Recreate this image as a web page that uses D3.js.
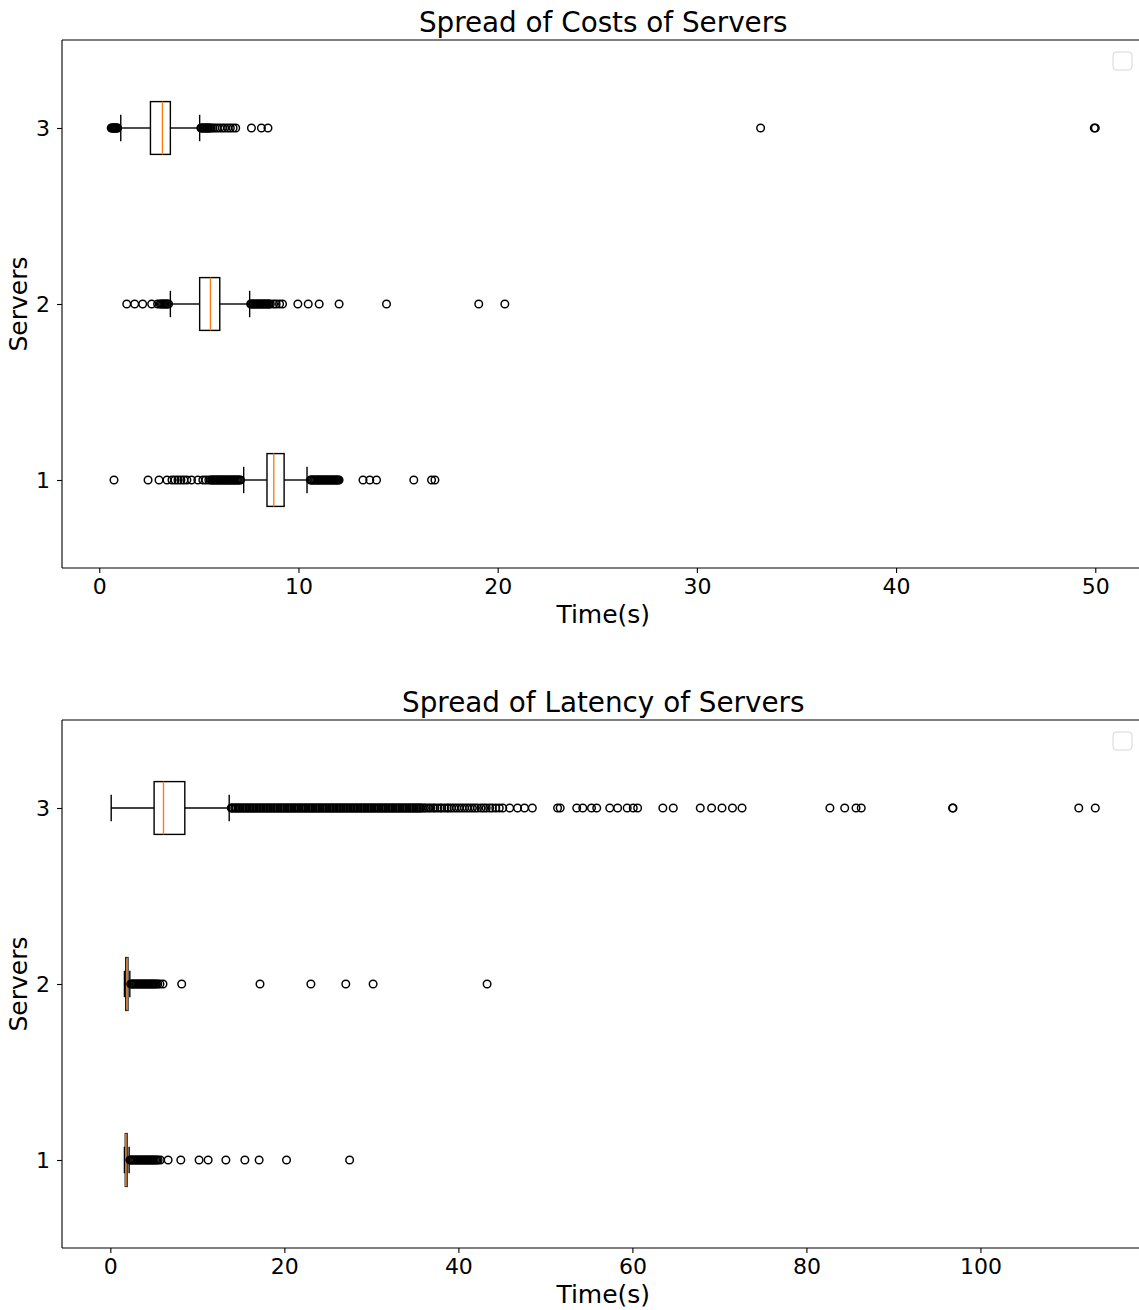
<!DOCTYPE html>
<html>
<head>
<meta charset="utf-8">
<script src="https://cdn.jsdelivr.net/npm/d3@7"></script>
<style>
  html, body { margin: 0; padding: 0; background: #ffffff; }
  svg { display: block; font-family: "DejaVu Sans", sans-serif; }
</style>
</head>
<body>
<script>
// ---------------- DATA ----------------
const servers = [1, 2, 3];

// box stats: [whisker low, Q1, median, Q3, whisker high]
const costBox1 = [7.25, 8.42, 8.76, 9.28, 10.43];
const costBox2 = [3.57, 5.04, 5.58, 6.05, 7.55];
const costBox3 = [1.08, 2.57, 3.17, 3.57, 5.04];

const costFliers1 = [0.74, 2.45, 3.0, 3.4, 3.65, 3.8, 3.95, 4.1, 4.25, 4.4, 4.63, 4.95, 5.2, 5.35, 5.5,
  5.6, 5.65, 5.7, 5.76, 5.81, 5.86, 5.92, 5.97, 6.02, 6.08, 6.13, 6.18, 6.24, 6.29, 6.34, 6.4, 6.45,
  6.5, 6.56, 6.61, 6.66, 6.72, 6.77, 6.82, 6.88, 6.93, 6.98, 7.04, 7.09,
  10.6, 10.65, 10.7, 10.76, 10.81, 10.86, 10.92, 10.97, 11.02, 11.08, 11.13, 11.18, 11.24, 11.29,
  11.34, 11.4, 11.45, 11.5, 11.56, 11.61, 11.66, 11.72, 11.77, 11.82, 11.88, 11.93, 11.98, 12.04,
  13.24, 13.58, 13.92, 15.79, 16.68, 16.85];
const costFliers2 = [1.38, 1.78, 2.18, 2.63, 2.93, 3.05, 3.12, 3.18, 3.24, 3.3, 3.36, 3.42, 3.48,
  7.6, 7.65, 7.71, 7.76, 7.82, 7.87, 7.93, 7.98, 8.04, 8.09, 8.15, 8.2, 8.26, 8.31, 8.37, 8.42, 8.48,
  8.53, 8.59, 8.75, 8.88, 9.05, 9.2,
  9.97, 10.49, 11.04, 12.04, 14.42, 19.05, 20.36];
const costFliers3 = [0.6, 0.63, 0.67, 0.7, 0.73, 0.76, 0.8, 0.83, 0.86, 0.89, 0.92,
  5.1, 5.14, 5.19, 5.23, 5.28, 5.32, 5.37, 5.41, 5.46, 5.5, 5.55, 5.6,
  5.7, 5.8, 5.92, 6.05, 6.18, 6.3, 6.45, 6.58, 6.72, 6.85,
  7.64, 8.14, 8.47, 33.2, 49.95, 50.0];

const latBox1 = [1.62, 1.72, 1.78, 1.92, 2.16];
const latBox2 = [1.62, 1.78, 1.93, 2.02, 2.24];
const latBox3 = [0.1, 5.03, 6.11, 8.56, 13.66];

const latFliers1 = [2.25, 2.38, 2.5, 2.64, 2.78, 2.9, 3.04, 3.17, 3.3, 3.45, 3.58, 3.7, 3.85, 3.98,
  4.1, 4.25, 4.38, 4.5, 4.65, 4.78, 4.9, 5.05, 5.2, 5.35, 5.5,
  5.75, 6.64, 8.1, 10.2, 11.24, 13.28, 15.46, 17.1, 20.25, 27.5];
const latFliers2 = [2.35, 2.48, 2.6, 2.74, 2.88, 3.0, 3.14, 3.27, 3.4, 3.55, 3.68, 3.8, 3.95, 4.08,
  4.2, 4.35, 4.48, 4.6, 4.75, 4.88, 5.0, 5.15, 5.3, 5.45,
  5.7, 6.05, 8.2, 17.2, 23.05, 27.06, 30.2, 43.3];
const latFliers3 = [
  13.9, 14.0, 14.1, 14.3, 14.4, 14.5, 14.7, 14.8, 14.9, 15.1, 15.2, 15.3, 15.5, 15.6, 15.7, 15.9,
  16.0, 16.1, 16.3, 16.4, 16.5, 16.7, 16.8, 16.9, 17.1, 17.2, 17.3, 17.5, 17.6, 17.7, 17.9,
  18.0, 18.1, 18.3, 18.4, 18.5, 18.7, 18.8, 18.9, 19.1, 19.2, 19.3, 19.5, 19.6, 19.7, 19.9,
  20.0, 20.1, 20.3, 20.4, 20.5, 20.7, 20.8, 20.9, 21.1, 21.2, 21.3, 21.5, 21.6, 21.7, 21.9,
  22.0, 22.1, 22.3, 22.4, 22.5, 22.7, 22.8, 22.9, 23.1, 23.2, 23.3, 23.5, 23.6, 23.7, 23.9,
  24.0, 24.1, 24.3, 24.4, 24.5, 24.7, 24.8, 24.9, 25.1, 25.2, 25.3, 25.5, 25.6, 25.7, 25.9,
  26.0, 26.1, 26.3, 26.4, 26.5, 26.7, 26.8, 26.9, 27.1, 27.2, 27.3, 27.5, 27.6, 27.7, 27.9,
  28.0, 28.1, 28.3, 28.4, 28.5, 28.7, 28.8, 28.9, 29.1, 29.2, 29.3, 29.5, 29.6, 29.7, 29.9,
  30.0, 30.1, 30.3, 30.4, 30.5, 30.7, 30.8, 30.9, 31.1, 31.2, 31.3, 31.5, 31.6, 31.7, 31.9,
  32.0, 32.1, 32.3, 32.4, 32.5, 32.7, 32.8, 32.9, 33.1, 33.2, 33.3, 33.5, 33.6, 33.7, 33.9,
  34.0, 34.1, 34.3, 34.4, 34.5, 34.7, 34.8, 34.9, 35.1, 35.2, 35.3, 35.5, 35.6, 35.7, 35.9,
  36.1, 36.3, 36.6, 36.8, 37.1, 37.3, 37.6, 37.9, 38.1, 38.4, 38.7, 38.9, 39.2, 39.5, 39.8, 40.1,
  40.4, 40.7, 41.0, 41.3, 41.6, 41.9, 42.2, 42.6, 42.9, 43.2, 43.6, 43.9, 44.3, 44.7,
  45.1, 45.9, 46.8, 47.6, 48.5, 51.4, 51.7, 53.6, 54.3, 55.3, 55.9, 57.4, 58.3, 59.4, 60.1, 60.6,
  63.5, 64.7, 67.8, 69.1, 70.3, 71.5, 72.6, 82.7, 84.4, 85.7, 86.3, 96.8, 96.85, 111.3, 113.2];

const costTicks = [0, 10, 20, 30, 40, 50];
const latTicks = [0, 20, 40, 60, 80, 100];
const yTicks = [1, 2, 3];

const costTitle = "Spread of Costs of Servers";
const latTitle = "Spread of Latency of Servers";
const xLabel = "Time(s)";
const yLabel = "Servers";

// ---------------- DRAWING ----------------
const W = 1139, H = 1310;
const svg = d3.select("body").append("svg").attr("width", W).attr("height", H);

const LEFT = 62, RIGHT = 1144.5;
const LW = 1.4;

function drawPanel(top, bottom, title, boxes, fliers, ticks) {
  const g = svg.append("g");
  const all = fliers.flat().concat(boxes.flat());
  const lo = d3.min(all), hi = d3.max(all);
  const m = (hi - lo) * 0.05;
  const x = d3.scaleLinear().domain([lo - m, hi + m]).range([LEFT, RIGHT]);
  const y = d3.scaleLinear().domain([0.5, 3.5]).range([bottom, top]);
  const halfBox = (y(0) - y(0.15));   // box width 0.3
  const halfCap = (y(0) - y(0.075));  // cap width 0.15

  // title
  g.append("text").attr("x", (LEFT + RIGHT) / 2).attr("y", top - 8)
    .attr("text-anchor", "middle").attr("font-size", 27.8).attr("fill", "#000").text(title);

  // x axis
  const xa = g.append("g").attr("transform", `translate(0,${bottom})`)
    .call(d3.axisBottom(x).tickValues(ticks).tickSize(5).tickPadding(5).tickFormat(d3.format("d")));
  xa.select(".domain").remove();
  xa.selectAll("line").attr("stroke", "#000").attr("stroke-width", 1.1);
  xa.selectAll("text").attr("font-size", 22).attr("fill", "#000").attr("font-family", "DejaVu Sans");

  // y axis
  const ya = g.append("g").attr("transform", `translate(${LEFT},0)`)
    .call(d3.axisLeft(y).tickValues(yTicks).tickSize(5).tickPadding(7).tickFormat(d3.format("d")));
  ya.select(".domain").remove();
  ya.selectAll("line").attr("stroke", "#000").attr("stroke-width", 1.1);
  ya.selectAll("text").attr("font-size", 22).attr("fill", "#000").attr("font-family", "DejaVu Sans");

  // axis labels
  g.append("text").attr("x", (LEFT + RIGHT) / 2).attr("y", bottom + 55)
    .attr("text-anchor", "middle").attr("font-size", 25).attr("fill", "#000").text(xLabel);
  g.append("text").attr("transform", `translate(27,${(top + bottom) / 2}) rotate(-90)`)
    .attr("text-anchor", "middle").attr("font-size", 25).attr("fill", "#000").text(yLabel);

  // spines
  g.append("path").attr("d", `M${LEFT},${top}H${RIGHT}M${LEFT},${bottom}H${RIGHT}M${LEFT},${top}V${bottom}`)
    .attr("fill", "none").attr("stroke", "#000").attr("stroke-width", 1.1);

  // boxes
  servers.forEach((s, i) => {
    const [wl, q1, med, q3, wh] = boxes[i];
    const cy = y(s);
    const bg = g.append("g");
    // whiskers
    bg.append("line").attr("x1", x(q1)).attr("x2", x(wl)).attr("y1", cy).attr("y2", cy);
    bg.append("line").attr("x1", x(q3)).attr("x2", x(wh)).attr("y1", cy).attr("y2", cy);
    // caps
    bg.append("line").attr("x1", x(wl)).attr("x2", x(wl)).attr("y1", cy - halfCap).attr("y2", cy + halfCap);
    bg.append("line").attr("x1", x(wh)).attr("x2", x(wh)).attr("y1", cy - halfCap).attr("y2", cy + halfCap);
    // box
    bg.append("rect").attr("x", x(q1)).attr("y", cy - halfBox)
      .attr("width", x(q3) - x(q1)).attr("height", 2 * halfBox).attr("fill", "none");
    bg.selectAll("line, rect").attr("stroke", "#000").attr("stroke-width", LW);
    // median
    bg.append("line").attr("x1", x(med)).attr("x2", x(med)).attr("y1", cy - halfBox).attr("y2", cy + halfBox)
      .attr("stroke", "#ff7f0e").attr("stroke-width", LW);
    // fliers
    bg.selectAll("circle.f").data(fliers[i]).join("circle").attr("class", "f")
      .attr("cx", d => x(d)).attr("cy", cy).attr("r", 3.8)
      .attr("fill", "none").attr("stroke", "#000").attr("stroke-width", 1.45);
  });

  // empty legend frame
  g.append("rect").attr("x", 1113).attr("y", top + 12).attr("width", 19).attr("height", 18)
    .attr("rx", 3.5).attr("fill", "#fff").attr("fill-opacity", 0.8)
    .attr("stroke", "#d6d6d6").attr("stroke-width", 1);
}

drawPanel(40, 568, costTitle, [costBox1, costBox2, costBox3], [costFliers1, costFliers2, costFliers3], costTicks);
drawPanel(720, 1248, latTitle, [latBox1, latBox2, latBox3], [latFliers1, latFliers2, latFliers3], latTicks);
</script>
</body>
</html>
